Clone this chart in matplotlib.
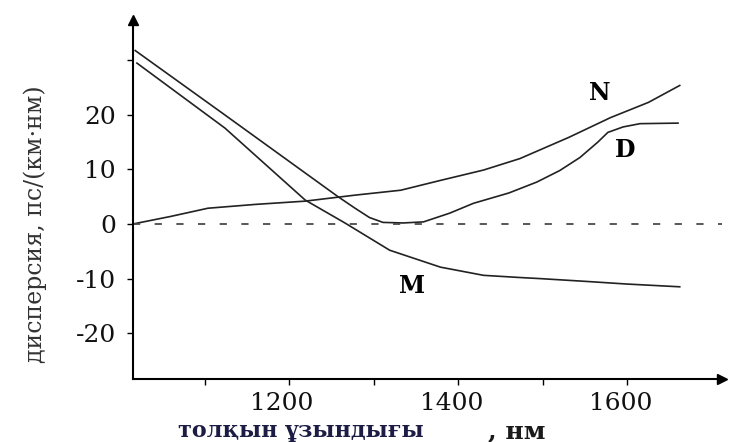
import matplotlib
matplotlib.use('Agg')
import matplotlib.pyplot as plt
import matplotlib.transforms as mtransforms

# Данные кривых дисперсии
lam_N = [1015, 1060, 1104, 1160, 1219, 1278, 1332, 1379, 1430, 1473, 1531, 1580, 1625, 1662]
disp_N = [0, 1.4, 2.9, 3.6, 4.2, 5.3, 6.2, 8.0, 9.9, 12.0, 15.9, 19.5, 22.3, 25.4]

lam_D = [1018, 1124, 1258, 1278, 1295, 1311, 1335, 1359, 1390, 1418, 1460, 1493, 1520, 1544, 1565, 1577, 1595, 1615, 1660]
disp_D = [31.8, 20.0, 5.0, 2.9, 1.2, 0.3, 0.2, 0.4, 2.0, 3.8, 5.7, 7.7, 9.8, 12.2, 15.0, 16.8, 17.8, 18.4, 18.5]

lam_M = [1020, 1124, 1219, 1266, 1319, 1379, 1430, 1473, 1497, 1550, 1600, 1662]
disp_M = [29.5, 17.6, 4.4, 0.2, -4.8, -7.9, -9.4, -9.8, -10.0, -10.5, -11.0, -11.5]

x_ticks = [1100, 1200, 1300, 1400, 1500, 1600]
x_labels = ['', '1200', '', '1400', '', '1600']
y_ticks = [-20, -10, 0, 10, 20, 30]
y_labels = ['-20', '-10', '0', '10', '20', '']

fig = plt.figure(figsize=(7.32, 4.42), dpi=100)
ax = fig.add_axes([132.7 / 732, 1 - 379 / 442, (722 - 132.7) / 732, (379 - 20) / 442])

line_c = '#222222'
ax.plot(lam_N, disp_N, color=line_c, lw=1.2)
ax.plot(lam_D, disp_D, color=line_c, lw=1.2)
ax.plot(lam_M, disp_M, color=line_c, lw=1.2)
ax.axhline(0, color='#4a4a4a', lw=1.3, dashes=(4, 8))

ax.set_xlim(1015, 1712)
ax.set_ylim(-28.4, 37.4)

# Оси со стрелками
for s in ['top', 'right']:
    ax.spines[s].set_visible(False)
for s in ['left', 'bottom']:
    ax.spines[s].set_linewidth(1.5)
ax.plot(1, 0, '>k', ms=7, transform=ax.transAxes, clip_on=False)
ax.plot(0, 1, '^k', ms=7, transform=ax.transAxes, clip_on=False)

ax.set_xticks(x_ticks)
ax.set_xticklabels(x_labels, fontsize=18, family='DejaVu Serif', color='#111111')
ax.set_yticks(y_ticks)
ax.set_yticklabels(y_labels, fontsize=18, family='DejaVu Serif', color='#111111')
ax.tick_params(axis='both', direction='out', length=4, width=1)
ax.tick_params(axis='x', pad=5)
ax.tick_params(axis='y', pad=8)

# небольшой сдвиг подписей по x влево
offset = mtransforms.ScaledTranslation(-7 / 100, 0, fig.dpi_scale_trans)
for lbl in ax.get_xticklabels():
    lbl.set_transform(lbl.get_transform() + offset)

# Подписи кривых
ax.text(1567, 24.0, 'N', fontsize=17, family='DejaVu Serif', fontweight='bold', ha='center', va='center')
ax.text(1598, 13.6, 'D', fontsize=17, family='DejaVu Serif', fontweight='bold', ha='center', va='center')
ax.text(1345, -11.3, 'M', fontsize=17, family='DejaVu Serif', fontweight='bold', ha='center', va='center')

# Подписи осей
fig.text(35 / 732, 1 - 224 / 442, 'дисперсия, пс/(км·нм)', rotation=90, fontsize=17,
         family='DejaVu Serif', color='#333333', ha='center', va='center')
fig.text(178 / 732, 1 - 431 / 442, 'толқын ұзындығы', fontsize=16, family='DejaVu Serif',
         fontweight='bold', color='#1c1c44', ha='left', va='center')
fig.text(488 / 732, 1 - 431 / 442, ', нм', fontsize=18, family='DejaVu Serif',
         fontweight='bold', color='#1a1a1a', ha='left', va='center')

plt.savefig('out.png', dpi=100)
